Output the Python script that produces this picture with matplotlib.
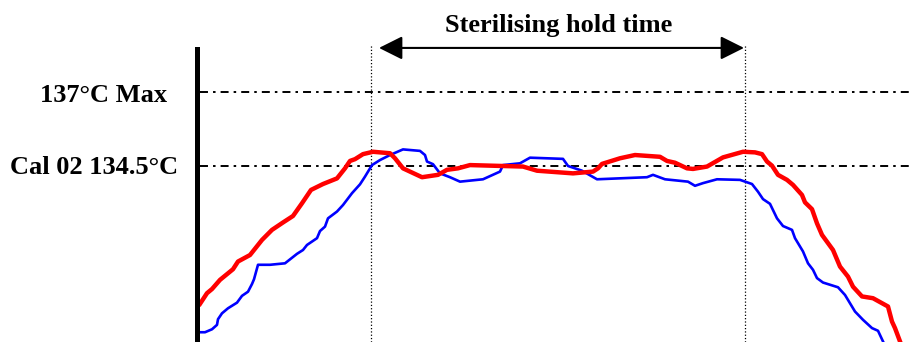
import matplotlib.pyplot as plt

# Sterilising cycle: two temperature probes, time in s from start of trace
red_t = [3, 10, 15, 23, 36, 41, 53, 65, 75, 86, 96, 105, 114, 126, 140, 148,
         153, 158, 166, 176, 193, 198, 206, 225, 241, 250, 261, 273, 326, 340,
         376, 396, 401, 405, 423, 438, 463, 470, 478, 490, 496, 510, 526, 546,
         558, 565, 570, 575, 581, 590, 596, 605, 608, 615, 620, 625, 636, 643,
         651, 656, 665, 676, 691, 695, 698, 703, 708]
red_temp = [129.84, 130.20, 130.34, 130.65, 131.01, 131.27, 131.49, 132.00,
            132.34, 132.59, 132.81, 133.24, 133.69, 133.89, 134.08, 134.42,
            134.67, 134.73, 134.90, 134.98, 134.93, 134.76, 134.42, 134.12,
            134.20, 134.37, 134.42, 134.53, 134.48, 134.34, 134.25, 134.31,
            134.42, 134.57, 134.76, 134.87, 134.81, 134.67, 134.61, 134.42,
            134.40, 134.48, 134.79, 134.98, 134.96, 134.90, 134.65, 134.51,
            134.20, 134.03, 133.86, 133.52, 133.27, 133.04, 132.56, 132.17,
            131.66, 131.10, 130.76, 130.42, 130.09, 130.03, 129.75, 129.24,
            129.02, 128.57, 128.12]

blue_t = [0, 8, 15, 20, 21, 25, 31, 40, 45, 51, 55, 57, 61, 73, 88, 100, 106,
          110, 120, 123, 128, 131, 140, 146, 155, 163, 168, 175, 183, 193, 206,
          223, 228, 230, 236, 243, 253, 263, 286, 303, 306, 323, 333, 366, 371,
          385, 400, 450, 456, 468, 491, 498, 506, 520, 543, 555, 561, 566, 573,
          580, 586, 595, 598, 606, 611, 616, 620, 626, 641, 648, 658, 666, 675,
          681, 686, 691]
blue_temp = [128.88, 128.88, 128.98, 129.13, 129.32, 129.52, 129.69, 129.88,
             130.11, 130.25, 130.51, 130.67, 131.16, 131.16, 131.21, 131.53,
             131.66, 131.83, 132.06, 132.30, 132.45, 132.73, 132.96, 133.18,
             133.58, 133.88, 134.14, 134.53, 134.70, 134.87, 135.06, 135.01,
             134.87, 134.65, 134.56, 134.25, 134.12, 133.97, 134.05, 134.31,
             134.53, 134.59, 134.78, 134.74, 134.50, 134.34, 134.05, 134.12,
             134.20, 134.05, 133.97, 133.83, 133.92, 134.05, 134.03, 133.89,
             133.63, 133.38, 133.22, 132.73, 132.47, 132.34, 132.06, 131.61,
             131.21, 130.99, 130.71, 130.56, 130.40, 130.14, 129.58, 129.30,
             129.02, 128.93, 128.57, 128.22]

max_temp = 137.0
cal_temp = 134.5
hold_start = 174
hold_end = 548

serif = ['Liberation Serif', 'DejaVu Serif']

fig = plt.figure(figsize=(9.12, 3.42), dpi=100)
ax = fig.add_axes([197 / 912, 0, 715 / 912, 1])
ax.set_xlim(0, 715)
ax.set_ylim(128.55, 140.11)

for side in ['top', 'right', 'bottom']:
    ax.spines[side].set_visible(False)
ax.spines['left'].set_linewidth(3.6)
ax.spines['left'].set_bounds(128.55, 138.45)
ax.set_xticks([])
ax.set_yticks([])

# limit lines
for temp in [max_temp, cal_temp]:
    ax.hlines(temp, 3, 715, color='black', linewidth=1.4,
              linestyles=[(0, (4.1, 2.6, 1.3, 2.6))])

# hold period markers
for t in [hold_start, hold_end]:
    ax.vlines(t, 128.55, 138.59, color='black', linewidth=0.9,
              linestyles='dotted')

ax.plot(blue_t, blue_temp, color='#0000FF', linewidth=1.9)
ax.plot(red_t, red_temp, color='#FF0000', linewidth=3.2)

ax.annotate('', xy=(547, 138.49), xytext=(182, 138.49),
            arrowprops=dict(arrowstyle='<|-|>,head_length=1.44,head_width=0.72',
                            mutation_scale=10, lw=1.5, color='black',
                            shrinkA=0, shrinkB=0),
            annotation_clip=False)
ax.text(361.5, 139.02, 'Sterilising hold time', ha='center', va='baseline',
        fontsize=19, fontweight='bold', family=serif)

ax.text(-30, 136.66, '137°C Max', ha='right', va='baseline', fontsize=19,
        fontweight='bold', family=serif, clip_on=False)
ax.text(-19, 134.23, 'Cal 02 134.5°C', ha='right', va='baseline', fontsize=19,
        fontweight='bold', family=serif, clip_on=False)

fig.savefig('out.png', dpi=100)
